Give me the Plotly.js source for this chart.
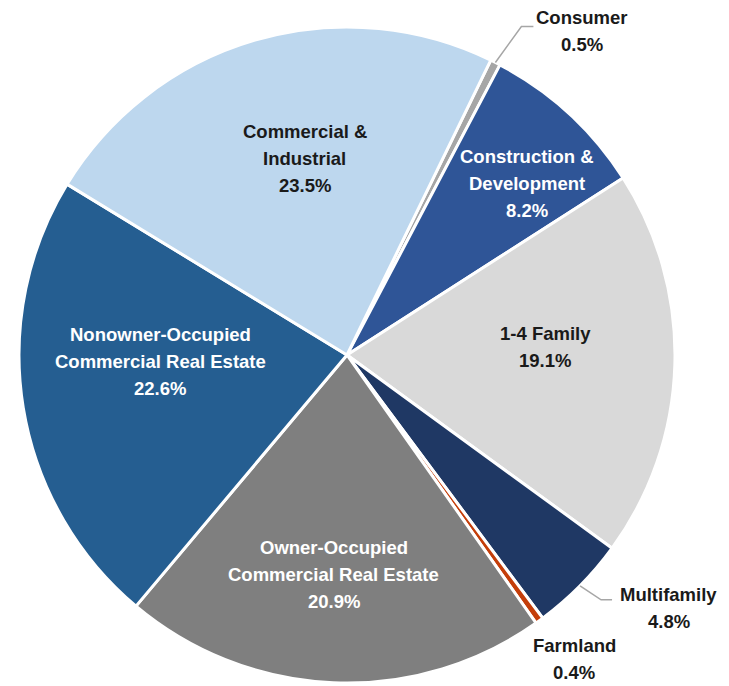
<!DOCTYPE html>
<html>
<head>
<meta charset="utf-8">
<script src="https://cdn.plot.ly/plotly-3.0.1.min.js"></script>
<style>
  html, body { margin: 0; padding: 0; background: #fff; }
  #chart { width: 729px; height: 686px; }
</style>
</head>
<body>
<div id="chart"></div>
<script>
// Data (clockwise from the Consumer slice)
const categories = [
  "Consumer", "Construction & Development", "1-4 Family", "Multifamily",
  "Farmland", "Owner-Occupied Commercial Real Estate",
  "Nonowner-Occupied Commercial Real Estate", "Commercial & Industrial"
];
const shares = [0.5, 8.2, 19.1, 4.8, 0.4, 20.9, 22.6, 23.5];
const labelLines = [
  ["Consumer"],
  ["Construction &", "Development"],
  ["1-4 Family"],
  ["Multifamily"],
  ["Farmland"],
  ["Owner-Occupied", "Commercial Real Estate"],
  ["Nonowner-Occupied", "Commercial Real Estate"],
  ["Commercial &", "Industrial"]
];

// Styling
const sliceColors = ["#a6a6a6", "#2f5597", "#d9d9d9", "#1f3864", "#c43e0a", "#7f7f7f", "#255e91", "#bdd7ee"];
const textColors  = ["#1a1a1a", "#ffffff", "#1a1a1a", "#1a1a1a", "#1a1a1a", "#ffffff", "#ffffff", "#1a1a1a"];
const labelR      = [1.223, 0.758, 0.604, 1.248, 1.155, 0.670, 0.571, 0.613];
const labelShift  = [[54, 34], [12, 12], [0, -14], [31, -35], [5, -3], [-4, 0], [-2, -24], [14, -4]];
const leaders = { 0: [[26, -36], [12, 0]], 3: [[21, 14], [11, 0]] }; // elbow + end, px
const rotation = 26;
const lineGap = 27;

// Geometry of the plot area (must match margins below)
const W = 729, H = 686;
const margin = { l: 19, r: 54, t: 27, b: 3 };
const plotW = W - margin.l - margin.r, plotH = H - margin.t - margin.b;
const R = Math.min(plotW, plotH) / 2;
const cx = margin.l + plotW / 2, cy = margin.t + plotH / 2;

const toPaperX = px => (px - margin.l) / plotW;
const toPaperY = py => (H - margin.b - py) / plotH;
const polar = (deg, frac) => {
  const a = deg * Math.PI / 180;
  return [cx + frac * R * Math.sin(a), cy - frac * R * Math.cos(a)];
};

const total = shares.reduce((a, b) => a + b, 0);
let cum = 0;
const midAngles = shares.map(v => {
  const mid = rotation + (cum + v / 2) / total * 360;
  cum += v;
  return mid;
});

const fontBase = { family: "Liberation Sans, Arial, sans-serif", size: 18.5, weight: 700 };

const annotations = [];
shares.forEach((v, i) => {
  const [px, py] = polar(midAngles[i], labelR[i]);
  const x = px + labelShift[i][0], y = py + labelShift[i][1];
  const lines = labelLines[i].concat([v.toFixed(1) + "%"]);
  lines.forEach((t, j) => {
    annotations.push({
      x: toPaperX(x), y: toPaperY(y), xref: "paper", yref: "paper",
      text: t, showarrow: false, xanchor: "center", yanchor: "middle",
      yshift: ((lines.length - 1) / 2 - j) * lineGap,
      font: Object.assign({}, fontBase, { color: textColors[i] })
    });
  });
});

const shapes = Object.keys(leaders).map(k => {
  const i = +k;
  const [tx, ty] = polar(midAngles[i], 1.0);
  const [e, f] = leaders[i];
  const ex = tx + e[0], ey = ty + e[1];
  const fx = ex + f[0], fy = ey + f[1];
  return {
    type: "path", xref: "paper", yref: "paper",
    path: `M ${toPaperX(tx)} ${toPaperY(ty)} L ${toPaperX(ex)} ${toPaperY(ey)} L ${toPaperX(fx)} ${toPaperY(fy)}`,
    line: { color: "#a6a6a6", width: 1.5 }
  };
});

Plotly.newPlot("chart", [{
  type: "pie",
  labels: categories,
  values: shares,
  sort: false,
  direction: "clockwise",
  rotation: rotation,
  textinfo: "none",
  hoverinfo: "label+percent",
  marker: { colors: sliceColors, line: { color: "#ffffff", width: 3 } }
}], {
  width: W, height: H,
  margin: margin,
  showlegend: false,
  paper_bgcolor: "#ffffff",
  annotations: annotations,
  shapes: shapes
}, { staticPlot: true });
</script>
</body>
</html>
